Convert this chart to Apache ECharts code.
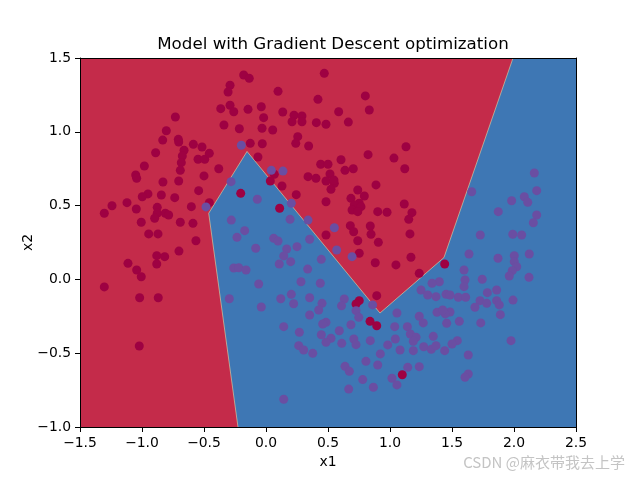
<!DOCTYPE html>
<html>
<head>
<meta charset="utf-8">
<title>Model with Gradient Descent optimization</title>
<script src="https://cdn.jsdelivr.net/npm/echarts@6/dist/echarts.min.js"></script>
<style>
  html, body { margin: 0; padding: 0; background: #fff; }
  #chart { width: 640px; height: 480px; }
</style>
</head>
<body>
<div id="chart"></div>
<script>
// class 0 points (upper moon)
var redX = [-0.731, -0.804, -0.833, -0.707, -0.704, -0.586, -0.661, -0.890, -0.675, -0.516,
  -0.548, -0.494, -0.683, -0.981, -0.691, -1.051, -1.043, -0.831, -0.704, -0.500,
  -0.543, -0.952, -0.998, -0.844, -0.736, -1.242, -1.121, -1.304, -1.046, -0.877,
  -0.877, -0.898, -0.812, -0.785, -0.602, -1.006, -0.691, -0.589, -0.946, -0.871,
  -0.565, -0.702, -0.881, -0.817, -1.113, -0.881, -1.043, -1.006, -1.304, -0.869,
  -1.019, -1.022, -0.180, -0.135, 0.470, -0.290, -0.306, 0.097, 0.419, -0.365,
  -0.290, -0.260, -0.145, -0.038, -0.019, 0.135, 0.226, 0.290, 0.210, 0.290,
  0.406, 0.484, -0.339, -0.215, -0.032, 0.054, 0.256, 0.240, 0.344, -0.457,
  -0.127, -0.030, -0.065, -0.381, 0.441, 0.500, 0.067, 0.339, 0.403, 0.516,
  0.035, 0.129, 0.244, 0.484, -0.204, -0.457, 0.110, 0.551, 0.524, 0.887,
  0.740, 0.793, 0.685, 0.752, 0.712, 0.766, 0.694, 0.740, 0.484, 1.115,
  0.901, 0.976, 1.177, 1.151, 0.680, 0.707, 0.841, 0.847, 0.484, 1.161,
  0.740, 0.906, 0.752, 1.169, 0.881, 1.048, 1.441, 1.236, 0.893, 0.752,
  0.726, 0.839, 0.893, 1.099, 0.801, 0.586, 0.833, 0.664, 1.129, 0.823,
  1.032, 1.119, 0.605, 0.637, 0.704, 0.548];
var redY = [1.100, 1.007, 0.944, 0.949, 0.931, 0.915, 0.875, 0.858, 0.836, 0.897,
  0.814, 0.814, 0.791, 0.768, 0.739, 0.707, 0.685, 0.660, 0.667, 0.701,
  0.601, 0.579, 0.560, 0.572, 0.554, 0.499, 0.520, 0.448, 0.477, 0.488,
  0.448, 0.414, 0.448, 0.436, 0.493, 0.387, 0.387, 0.380, 0.308, 0.308,
  0.262, 0.192, 0.161, 0.154, 0.109, 0.104, 0.064, 0.018, -0.051, -0.124,
  -0.124, -0.451, 1.385, 1.362, 1.396, 1.315, 1.270, 1.274, 1.220, 1.157,
  1.180, 1.136, 1.152, 1.170, 1.096, 1.134, 1.112, 1.107, 1.068, 1.068,
  1.062, 1.051, 1.046, 1.021, 1.024, 1.012, 0.967, 0.922, 0.904, 0.854,
  0.922, 0.919, 0.829, 0.750, 0.780, 0.780, 0.712, 0.696, 0.685, 0.714,
  0.667, 0.633, 0.574, 0.667, 0.583, 0.520, 0.482, 0.651, 0.610, 0.640,
  0.606, 0.565, 0.549, 0.516, 0.504, 0.493, 0.470, 0.459, 0.526, 0.511,
  0.459, 0.455, 0.452, 0.407, 0.364, 0.323, 0.362, 0.306, 0.301, 0.308,
  0.262, 0.251, 0.177, 0.150, 0.113, 0.098, 0.104, 0.041, -0.110, -0.144,
  -0.167, -0.284, -0.314, -0.646, 1.243, 1.136, 1.148, 1.066, 0.899, 0.845,
  0.822, 0.750, 0.811, 0.739, 0.750, 0.673];

// class 1 points (lower moon)
var blueX = [-0.484, -0.199, 0.043, 0.137, -0.282, -0.070, 0.204, -0.280, 0.194, 0.339,
  -0.172, -0.234, 0.062, 0.097, 0.352, -0.083, 0.167, 0.250, 0.143, 0.107,
  0.199, 0.446, -0.260, -0.220, -0.161, 0.336, -0.059, 0.282, 0.438, -0.296,
  0.119, 0.204, 0.352, 0.223, -0.038, 0.452, 0.551, 0.570, 0.694, 1.398,
  1.339, 1.250, 1.304, 1.371, 1.452, 0.631, 0.860, 0.609, 2.164, 1.659,
  1.981, 2.083, 2.111, 2.183, 1.873, 2.183, 2.156, 1.728, 1.990, 2.062,
  1.637, 1.871, 2.002, 2.002, 2.022, 1.986, 1.962, 2.123, 1.597, 1.605,
  1.597, 1.744, 2.121, 1.860, 1.785, 1.551, 1.610, 1.484, 1.726, 1.780,
  1.860, 1.881, 1.992, 1.685, 1.559, 1.732, 1.890, 1.543, 1.976, 1.631,
  1.631, 1.605, 1.484, 0.726, 0.748, 1.056, 1.236, 1.268, 1.379, 1.446,
  1.425, 1.457, 0.484, 0.685, 1.038, 1.140, 0.591, 1.164, 1.210, 1.188,
  1.349, 0.524, 0.484, 0.611, 0.708, 0.726, 0.841, 1.043, 0.982, 1.081,
  1.188, 1.272, 1.333, 1.371, 1.441, 1.500, 0.922, 0.637, 0.672, 0.806,
  0.901, 1.143, 1.236, 1.016, 1.056, 0.780, 0.866, 0.667, 0.425, 0.352,
  0.457, 0.143, 0.269, 0.446, 0.264, 0.304, 0.377, 0.143];
var blueY = [0.491, 0.909, 0.739, 0.734, 0.662, 0.543, 0.516, 0.402, 0.407, 0.402,
  0.330, 0.285, 0.278, 0.260, 0.272, 0.211, 0.206, 0.222, 0.159, 0.104,
  0.120, 0.136, 0.077, 0.079, 0.064, 0.070, -0.031, -0.016, -0.026, -0.131,
  -0.131, -0.101, -0.124, -0.165, -0.187, -0.162, 0.350, 0.199, 0.154, -0.016,
  -0.026, -0.072, -0.106, -0.117, -0.101, -0.133, -0.173, -0.179, 0.721, 0.594,
  0.533, 0.560, 0.522, 0.601, 0.459, 0.436, 0.384, 0.301, 0.306, 0.301,
  0.172, 0.143, 0.161, 0.120, 0.086, 0.059, 0.023, 0.172, 0.064, -0.004,
  -0.049, 0.001, 0.014, -0.072, -0.090, -0.121, -0.121, -0.106, -0.144, -0.162,
  -0.144, -0.173, -0.140, -0.189, -0.284, -0.295, -0.239, -0.415, -0.415, -0.512,
  -0.641, -0.663, -0.221, -0.212, -0.257, -0.228, -0.250, -0.295, -0.223, -0.234,
  -0.207, -0.297, -0.291, -0.307, -0.320, -0.320, -0.348, -0.370, -0.392, -0.419,
  -0.386, -0.399, -0.426, -0.433, -0.404, -0.442, -0.415, -0.404, -0.444, -0.478,
  -0.483, -0.456, -0.474, -0.449, -0.483, -0.438, -0.505, -0.589, -0.623, -0.555,
  -0.580, -0.596, -0.591, -0.670, -0.715, -0.679, -0.731, -0.743, -0.207, -0.241,
  -0.302, -0.320, -0.358, -0.375, -0.449, -0.478, -0.501, -0.812];

// predicted class-1 region (outline of the blue area)
var regionX = [-0.226, -0.462, -0.153, 0.919, 1.435, 1.992, 2.5, 2.5];
var regionY = [-1.0, 0.448, 0.867, -0.228, 0.148, 1.5, 1.5, -1.0];

var xTicks = [-1.5, 2.5, 0.5];
var yTicks = [-1.0, 1.5, 0.5];

var RED_BG = '#c42b4a';
var BLUE_BG = '#3e77b4';
var RED_PT = '#9e0142';
var BLUE_PT = '#6a4ea2';
var FONT = 'DejaVu Sans';

function zip(xs, ys) {
    return xs.map(function (x, i) { return [x, ys[i]]; });
}

function tickText(v) {
    return v.toFixed(1).replace('-', '\u2212');
}

var chart = echarts.init(document.getElementById('chart'), null, { renderer: 'canvas' });

var option = {
    backgroundColor: '#fff',
    animation: false,
    title: {
        text: 'Model with Gradient Descent optimization',
        left: 328,
        top: 31,
        textAlign: 'center',
        textStyle: { fontFamily: FONT, fontSize: 16.7, fontWeight: 'normal', color: '#000' }
    },
    grid: {
        left: 80, top: 58, right: 64, bottom: 53,
        show: true, backgroundColor: RED_BG, borderWidth: 0
    },
    xAxis: [{
        type: 'value', min: xTicks[0], max: xTicks[1], interval: xTicks[2],
        z: 10,
        name: 'x1', nameLocation: 'middle', nameGap: 28,
        nameTextStyle: { fontFamily: FONT, fontSize: 13.9, color: '#000' },
        axisLine: { show: true, onZero: false, lineStyle: { color: '#000', width: 1 } },
        axisTick: { show: true, inside: false, length: 5, lineStyle: { color: '#000' } },
        axisLabel: { margin: 9, fontFamily: FONT, fontSize: 13.9, color: '#000', formatter: tickText },
        splitLine: { show: false }
    }, {
        type: 'value', position: 'top', min: xTicks[0], max: xTicks[1], z: 10,
        axisLine: { show: true, onZero: false, lineStyle: { color: '#000', width: 1 } },
        axisTick: { show: false }, axisLabel: { show: false }, splitLine: { show: false }
    }],
    yAxis: [{
        type: 'value', min: yTicks[0], max: yTicks[1], interval: yTicks[2],
        z: 10,
        name: 'x2', nameLocation: 'middle', nameGap: 45, nameMoveOverlap: false,
        nameTextStyle: { fontFamily: FONT, fontSize: 13.9, color: '#000' },
        axisLine: { show: true, onZero: false, lineStyle: { color: '#000', width: 1 } },
        axisTick: { show: true, inside: false, length: 5, lineStyle: { color: '#000' } },
        axisLabel: { margin: 9, fontFamily: FONT, fontSize: 13.9, color: '#000', formatter: tickText },
        splitLine: { show: false }
    }, {
        type: 'value', position: 'right', min: yTicks[0], max: yTicks[1], z: 10,
        axisLine: { show: true, onZero: false, lineStyle: { color: '#000', width: 1 } },
        axisTick: { show: false }, axisLabel: { show: false }, splitLine: { show: false }
    }],
    series: [{
        type: 'custom',
        z: 1,
        clip: true,
        data: [0],
        renderItem: function (params, api) {
            var pts = regionX.map(function (x, i) { return api.coord([x, regionY[i]]); });
            return {
                type: 'group',
                children: [{
                    type: 'polygon',
                    shape: { points: pts },
                    style: { fill: BLUE_BG }
                }, {
                    type: 'polyline',
                    shape: { points: pts.slice(0, 6) },
                    style: { stroke: 'rgba(238,240,170,0.75)', lineWidth: 0.7, fill: null }
                }]
            };
        }
    }, {
        type: 'scatter',
        z: 3,
        symbolSize: 9,
        itemStyle: { color: RED_PT, opacity: 1 },
        data: zip(redX, redY)
    }, {
        type: 'scatter',
        z: 3,
        symbolSize: 9,
        itemStyle: { color: BLUE_PT, opacity: 1 },
        data: zip(blueX, blueY)
    }],
    graphic: [{
        type: 'text',
        right: 15,
        top: 455,
        style: {
            text: 'CSDN @麻衣带我去上学',
            font: '15px "Noto Sans CJK SC"',
            fill: '#c4c4c4'
        }
    }]
};

chart.setOption(option);
</script>
</body>
</html>
